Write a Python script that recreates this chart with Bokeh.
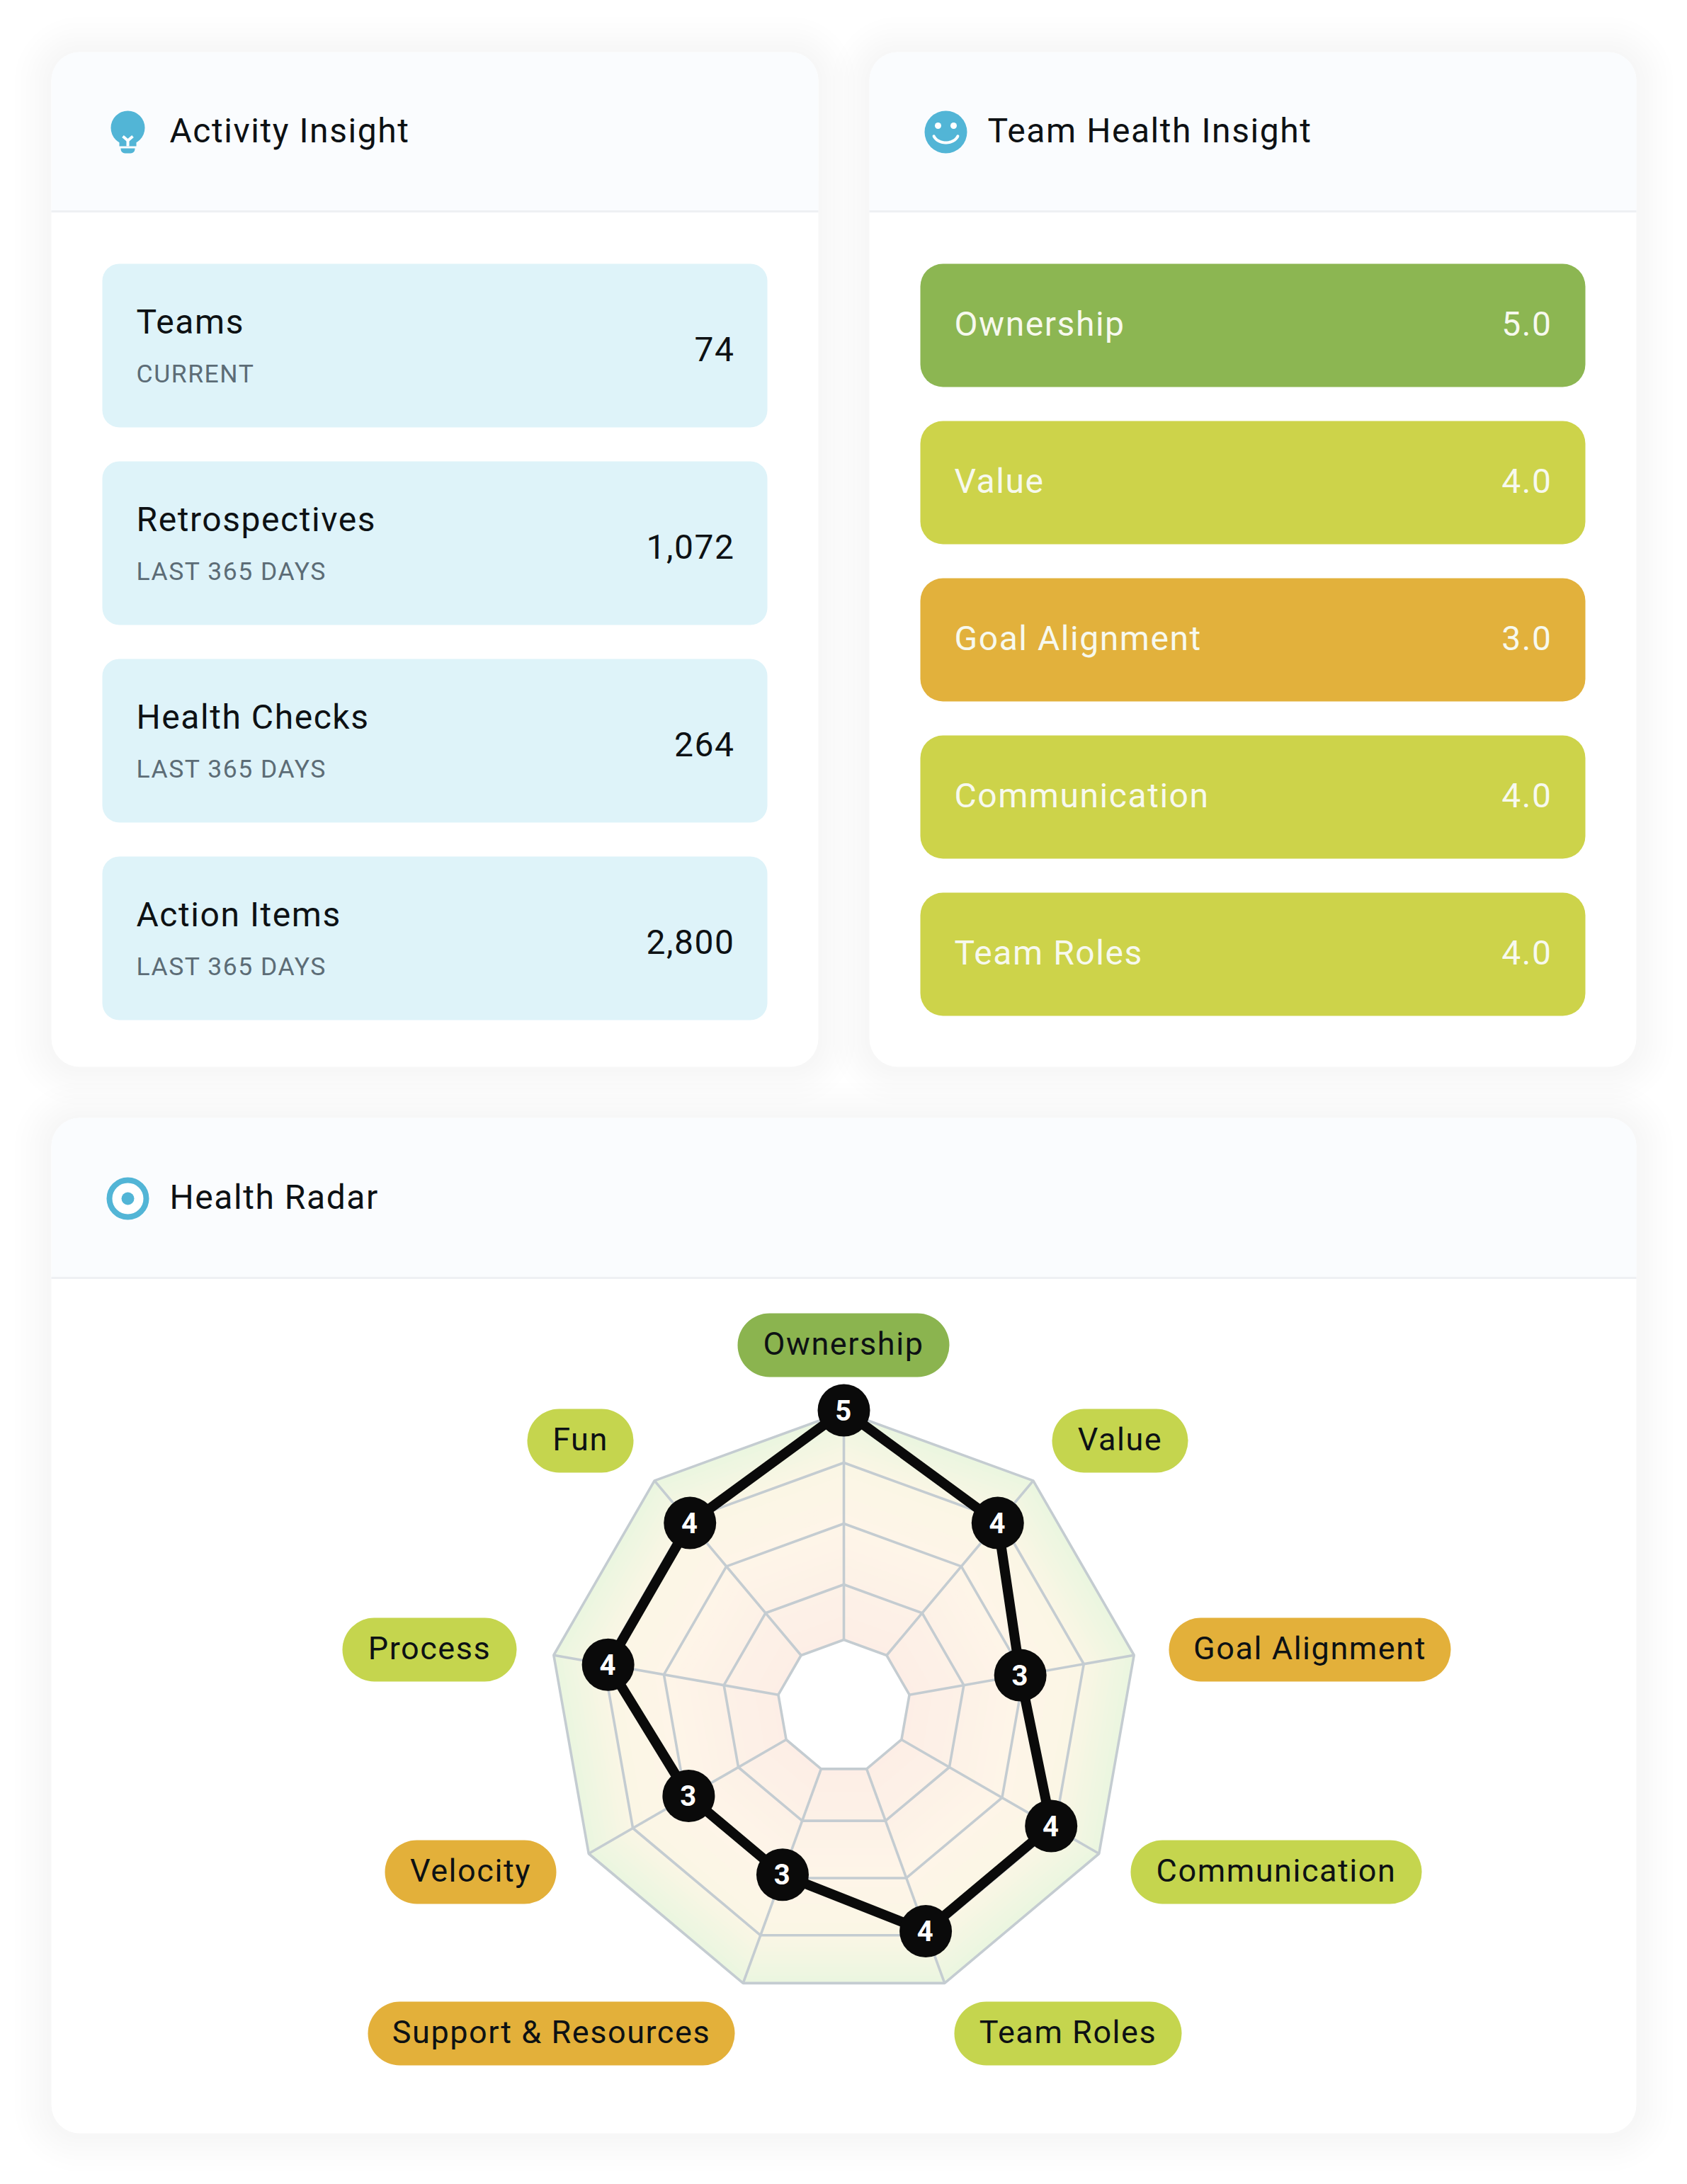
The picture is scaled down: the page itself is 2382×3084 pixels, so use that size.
import numpy as np
from bokeh.plotting import figure
from bokeh.embed import file_html
from bokeh.resources import INLINE
from bokeh.core.properties import value

# ---------- data ----------
activity_labels = ["Teams", "Retrospectives", "Health Checks", "Action Items"]
activity_periods = ["CURRENT", "LAST 365 DAYS", "LAST 365 DAYS", "LAST 365 DAYS"]
activity_values = ["74", "1,072", "264", "2,800"]

health_labels = ["Ownership", "Value", "Goal Alignment", "Communication", "Team Roles"]
health_values = [5.0, 4.0, 3.0, 4.0, 4.0]

radar_labels = ["Ownership", "Value", "Goal Alignment", "Communication", "Team Roles",
                "Support & Resources", "Velocity", "Process", "Fun"]
radar_values = [5, 4, 3, 4, 4, 3, 3, 4, 4]

# ---------- style ----------
FONT = value("Roboto")
INK = "#0d1114"
SUB = "#5c6c76"
ICON = "#52b5d6"
CARD_HEAD = "#fafcfe"
RULE = "#eef0f3"
ITEM = "#def3f9"
SCORE_COL = {5: "#8cb652", 4: "#cdd34a", 3: "#e2b13c"}
PILL_COL = {5: "#8bb44f", 4: "#c5d54e", 3: "#e3b03a"}
GRID = "#c4ccd1"
SPACING = 1.55
BASE_SHIFT = 0.36

W, H = 2382, 3084
p = figure(width=W, height=H, x_range=(0, W), y_range=(H, 0),
           output_backend="svg", toolbar_location=None, min_border=0,
           background_fill_color="#ffffff", border_fill_color="#ffffff",
           outline_line_color=None)
p.styles = {"letter-spacing": f"{SPACING}px"}
p.axis.visible = False
p.grid.visible = False


def card(l, r, t, b, head_b):
    for grow in [52, 44, 36, 30, 24, 18, 12, 6]:
        p.quad(left=[l - grow], right=[r + grow], top=[t - grow + 2], bottom=[b + grow + 2],
               fill_color="#000000", fill_alpha=0.0032, line_color=None, border_radius=40 + grow)
    p.quad(left=[l], right=[r], top=[t], bottom=[b], fill_color="#ffffff", line_color=None, border_radius=40)
    p.quad(left=[l], right=[r], top=[t], bottom=[head_b], fill_color=CARD_HEAD, line_color=None,
           border_radius=(40, 40, 0, 0))
    p.segment(x0=[l], x1=[r], y0=[head_b], y1=[head_b], line_color=RULE, line_width=3)


def label(x, y, txt, size, color=INK, align="left", style="normal"):
    # the browser's letter spacing is unknown to Bokeh's own measure of the text
    k = {"left": 0, "center": .5, "right": 1}[align]
    x = [a - k * SPACING * len(t) for a, t in zip(x, txt)]
    y = [b - BASE_SHIFT * size for b in y]
    p.text(x=x, y=y, text=txt, text_font=FONT, text_font_size=f"{size}px", text_color=color,
           text_align=align, text_baseline="alphabetic", text_font_style=style)


# ---------- cards ----------
card(72, 1155, 73, 1506, 298)
card(1227, 2310, 73, 1506, 298)
card(72, 2310, 1578, 3012, 1804)

label([239, 1394, 239], [201, 201, 1707],
      ["Activity Insight", "Team Health Insight", "Health Radar"], 48)

# bulb icon
p.circle(x=[180], y=[180], radius=24, radius_units="screen", fill_color=ICON, line_color=None)
p.quad(left=[168], right=[192], top=[190], bottom=[206], fill_color=ICON, line_color=None)
p.quad(left=[170], right=[190], top=[209], bottom=[216], fill_color=ICON, line_color=None, border_radius=(0, 0, 6, 6))
p.multi_line(xs=[[173, 180, 187], [180, 180]], ys=[[192, 198, 192], [198, 206]], line_color="#ffffff", line_width=4)
# smile icon
p.circle(x=[1335], y=[186], radius=30, radius_units="screen", fill_color=ICON, line_color=None)
p.circle(x=[1324, 1346], y=[177, 177], radius=4.5, radius_units="screen", fill_color="#ffffff", line_color=None)
th = np.linspace(0.35, np.pi - 0.35, 24)
p.line(x=1335 + 18 * np.cos(th), y=187 + 14 * np.sin(th), line_color="#ffffff", line_width=4, line_cap="round")
# target icon
p.circle(x=[180], y=[1692], radius=26, radius_units="screen", fill_color="#ffffff", line_color=ICON, line_width=8)
p.circle(x=[180], y=[1692], radius=9, radius_units="screen", fill_color=ICON, line_color=None)

# ---------- activity rows ----------
row_top = [372 + 279 * i for i in range(len(activity_labels))]
p.quad(left=[144] * 4, right=[1083] * 4, top=row_top, bottom=[t + 231 for t in row_top],
       fill_color=ITEM, line_color=None, border_radius=24)
label([192] * 4, [t + 99 for t in row_top], activity_labels, 48)
label([192] * 4, [t + 168 for t in row_top], activity_periods, 35.5, SUB)
label([1037] * 4, [t + 138 for t in row_top], activity_values, 48, align="right")

# ---------- health rows ----------
bar_top = [372 + 222 * i for i in range(len(health_labels))]
p.quad(left=[1299] * 5, right=[2238] * 5, top=bar_top, bottom=[t + 174 for t in bar_top],
       fill_color=[SCORE_COL[int(v)] for v in health_values], line_color=None, border_radius=32)
label([1347] * 5, [t + 102 for t in bar_top], health_labels, 48, "#f7f9ee")
label([2191] * 5, [t + 102 for t in bar_top], [f"{v:.1f}" for v in health_values], 48, "#f7f9ee", align="right")

# ---------- radar ----------
CX, CY = 1191, 2409
grid_radius = [94, 172, 258, 344, 416]
level_radius = {3: 253, 4: 338, 5: 418}
n = len(radar_labels)
ang = np.arange(n) * 2 * np.pi / n
sx, cy_ = np.sin(ang), -np.cos(ang)


def ring(r):
    return list(CX + r * sx), list(CY + r * cy_)


stops_c = [(253, 238, 230), (253, 241, 231), (254, 245, 232), (251, 246, 229), (235, 246, 224)]
for r in np.arange(416, 94, -6.0):
    rgb = [int(round(np.interp(r, grid_radius, [c[i] for c in stops_c]))) for i in range(3)]
    xs, ys = ring(r)
    p.patch(xs, ys, fill_color="#%02x%02x%02x" % tuple(rgb), line_color=None)
xs, ys = ring(94)
p.patch(xs, ys, fill_color="#ffffff", line_color=None)

for r in grid_radius:
    xs, ys = ring(r)
    p.line(xs + xs[:1], ys + ys[:1], line_color=GRID, line_width=3.6)
p.segment(x0=CX + 94 * sx, y0=CY + 94 * cy_, x1=CX + 416 * sx, y1=CY + 416 * cy_, line_color=GRID, line_width=3.6)

r_val = np.array([level_radius[v] for v in radar_values])
px, py = CX + r_val * sx, CY + r_val * cy_
p.line(list(px) + [px[0]], list(py) + [py[0]], line_color="#0a0a0a", line_width=14, line_join="round")
p.circle(x=px, y=py, radius=37, radius_units="screen", fill_color="#0a0a0a", line_color=None)
label(list(px), list(py + 14), [str(v) for v in radar_values], 40, "#ffffff", align="center", style="bold")

# pills
pill_l = [1041, 1485, 1650, 1596, 1347, 519, 543, 483, 744]
pill_r = [1340, 1677, 2048, 2007, 1668, 1037, 785, 729, 894]
pill_t = [1854, 1989, 2284, 2598, 2826, 2826, 2598, 2284, 1989]
p.quad(left=pill_l, right=pill_r, top=pill_t, bottom=[t + 90 for t in pill_t],
       fill_color=[PILL_COL[v] for v in radar_values], line_color=None, border_radius=45)
label([(a + b) / 2 for a, b in zip(pill_l, pill_r)], [t + 59 for t in pill_t], radar_labels, 45, align="center")

open("out.html", "w").write(file_html(p, INLINE))
